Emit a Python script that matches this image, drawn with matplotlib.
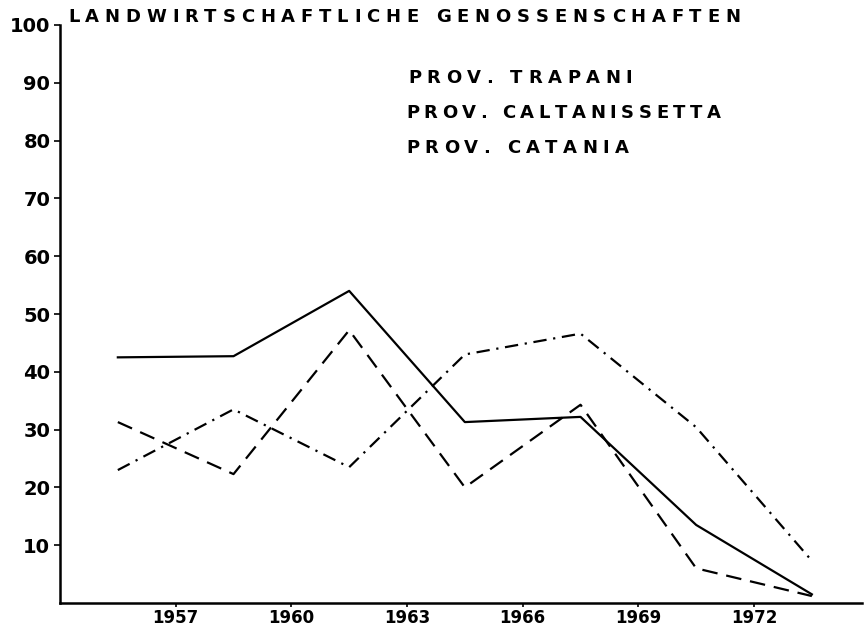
import matplotlib
matplotlib.use("Agg")
import matplotlib.pyplot as plt
from matplotlib.font_manager import FontProperties

# data
jahre = [1955.5, 1958.5, 1961.5, 1964.5, 1967.5, 1970.5, 1973.5]
trapani = [42.5, 42.7, 54.0, 31.3, 32.2, 13.5, 1.5]
caltanissetta = [31.3, 22.3, 47.2, 20.0, 34.3, 6.0, 1.2]
catania = [23.0, 33.5, 23.5, 43.0, 46.6, 30.4, 7.3]

xticks = [1957, 1960, 1963, 1966, 1969, 1972]
yticks = [10, 20, 30, 40, 50, 60, 70, 80, 90, 100]
titel = "LANDWIRTSCHAFTLICHE GENOSSENSCHAFTEN"
legende = ["PROV. TRAPANI", "PROV. CALTANISSETTA", "PROV. CATANIA"]

W, H = 867, 630
fig = plt.figure(figsize=(W / 100, H / 100), dpi=100)
ax = fig.add_axes([60 / W, 1 - 603 / H, 802 / W, 578 / H])

ax.plot(jahre, trapani, color="black", lw=1.6, ls="-")
ax.plot(jahre, caltanissetta, color="black", lw=1.6, ls=(0, (7, 4)))
ax.plot(jahre, catania, color="black", lw=1.6, ls=(0, (6, 3, 1, 3)))

ax.set_xlim(1954.0, 1974.8)
ax.set_ylim(0, 100)
ax.set_xticks(xticks)
ax.set_yticks(yticks)
ax.set_xticklabels([str(t) for t in xticks], fontsize=12, fontweight="bold")
ax.set_yticklabels([str(t) for t in yticks], fontsize=14, fontweight="bold")
ax.tick_params(axis="both", length=4, width=1.2, pad=3, direction="out")
ax.tick_params(axis="x", length=3, pad=1)
for s in ["top", "right"]:
    ax.spines[s].set_visible(False)
for s in ["left", "bottom"]:
    ax.spines[s].set_linewidth(1.8)

renderer = fig.canvas.get_renderer()


def spaced_text(x, y, s, size, track):
    # draw text char by char in pixel coords with extra letter spacing
    fp = FontProperties(family="DejaVu Sans", weight="bold", size=size)
    for ch in s:
        w, h, d = renderer.get_text_width_height_descent(ch, fp, ismath=False)
        if ch == " ":
            w = size * 100 / 72 * 0.32
        fig.text(x / W, 1 - y / H, ch, fontproperties=fp, ha="left", va="baseline")
        x += w + track


spaced_text(68, 22, titel, 13, 5.8)
spaced_text(408, 83, legende[0], 13, 5.6)
spaced_text(406, 118, legende[1], 13, 4.6)
spaced_text(406, 153, legende[2], 13, 5.4)

fig.savefig("out.png", dpi=100)
